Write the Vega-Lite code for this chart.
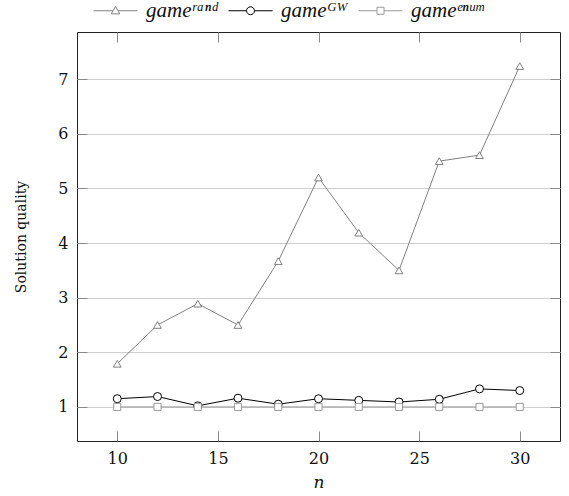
{
  "$schema": "https://vega.github.io/schema/vega-lite/v6.json",
  "width": 483,
  "height": 409,
  "autosize": {"type": "none"},
  "padding": {"left": 77, "top": 32, "right": 9, "bottom": 55},
  "background": "white",
  "config": {
    "view": {"stroke": "#222", "strokeWidth": 1},
    "font": "DejaVu Serif",
    "axis": {"labelFont": "DejaVu Serif", "titleFont": "DejaVu Serif", "labelColor": "#111", "titleColor": "#111", "titleFontWeight": "normal", "domain": false, "tickColor": "#8a8a8a", "tickWidth": 1},
    "legend": {"orient": "none", "direction": "horizontal", "legendX": 16, "legendY": -44, "title": null, "symbolSize": 1936, "symbolStrokeWidth": 1, "symbolFillColor": "white", "symbolOpacity": 1, "labelOffset": 8, "columnPadding": 8, "labelFont": "Liberation Serif", "labelFontStyle": "italic", "labelFontWeight": "normal", "labelFontSize": 21, "labelColor": "#111"}
  },
  "data": {"values": [
    {"n": 10, "q": 1.79, "s": "rand"}, {"n": 12, "q": 2.5, "s": "rand"}, {"n": 14, "q": 2.89, "s": "rand"}, {"n": 16, "q": 2.5, "s": "rand"}, {"n": 18, "q": 3.67, "s": "rand"}, {"n": 20, "q": 5.2, "s": "rand"}, {"n": 22, "q": 4.19, "s": "rand"}, {"n": 24, "q": 3.5, "s": "rand"}, {"n": 26, "q": 5.5, "s": "rand"}, {"n": 28, "q": 5.61, "s": "rand"}, {"n": 30, "q": 7.24, "s": "rand"},
    {"n": 10, "q": 1.15, "s": "GW"}, {"n": 12, "q": 1.19, "s": "GW"}, {"n": 14, "q": 1.02, "s": "GW"}, {"n": 16, "q": 1.16, "s": "GW"}, {"n": 18, "q": 1.05, "s": "GW"}, {"n": 20, "q": 1.15, "s": "GW"}, {"n": 22, "q": 1.12, "s": "GW"}, {"n": 24, "q": 1.09, "s": "GW"}, {"n": 26, "q": 1.14, "s": "GW"}, {"n": 28, "q": 1.33, "s": "GW"}, {"n": 30, "q": 1.3, "s": "GW"},
    {"n": 10, "q": 1, "s": "enum"}, {"n": 12, "q": 1, "s": "enum"}, {"n": 14, "q": 1, "s": "enum"}, {"n": 16, "q": 1, "s": "enum"}, {"n": 18, "q": 1, "s": "enum"}, {"n": 20, "q": 1, "s": "enum"}, {"n": 22, "q": 1, "s": "enum"}, {"n": 24, "q": 1, "s": "enum"}, {"n": 26, "q": 1, "s": "enum"}, {"n": 28, "q": 1, "s": "enum"}, {"n": 30, "q": 1, "s": "enum"}
  ]},
  "encoding": {
    "stroke": {"field": "s", "type": "nominal", "scale": {"domain": ["rand", "GW", "enum"], "range": ["#808080", "#000000", "#999999"]},
      "legend": {"labelExpr": "datum.value == 'rand' ? 'gameʳᵃⁿᵈ' : datum.value == 'GW' ? 'gameᴳᵂ' : 'gameᵉⁿᵘᵐ'"}}
  },
  "layer": [
    {
      "mark": {"type": "line", "strokeWidth": 1},
      "encoding": {
        "x": {"field": "n", "type": "quantitative", "scale": {"domain": [8, 32], "nice": false, "zero": false},
          "axis": {"orient": "bottom", "values": [10, 15, 20, 25, 30], "title": "n", "titleFontStyle": "italic", "titleFontSize": 17, "labelFontSize": 16, "tickSize": -10, "labelPadding": 19, "titlePadding": 8, "grid": false}},
        "y": {"field": "q", "type": "quantitative", "scale": {"domain": [0.376, 7.864], "nice": false, "zero": false},
          "axis": {"orient": "left", "values": [1, 2, 3, 4, 5, 6, 7], "title": "Solution quality", "titleFontSize": 14, "labelFontSize": 16, "tickSize": -10, "labelPadding": 19, "titlePadding": 29, "grid": true, "gridColor": "#cfcfcf", "gridWidth": 1}}
      }
    },
    {
      "mark": {"type": "point", "filled": false, "opacity": 0, "strokeWidth": 1},
      "encoding": {
        "x": {"field": "n", "type": "quantitative", "axis": {"orient": "top", "values": [10, 15, 20, 25, 30], "labels": false, "title": null, "tickSize": -10, "grid": false}},
        "y": {"field": "q", "type": "quantitative", "axis": {"orient": "right", "values": [1, 2, 3, 4, 5, 6, 7], "labels": false, "title": null, "tickSize": -10, "grid": false}},
        "shape": {"field": "s", "type": "nominal",
          "scale": {"domain": ["rand", "GW", "enum"], "range": ["M-1,0L-0.12,0M0.12,0L1,0M0,-0.2L0.19,0.14L-0.19,0.14Z", "M-1,0L-0.18,0M0.18,0L1,0M-0.18,0A0.18,0.18,0,1,0,0.18,0A0.18,0.18,0,1,0,-0.18,0Z", "M-1,0L-0.16,0M0.16,0L1,0M-0.16,-0.16L0.16,-0.16L0.16,0.16L-0.16,0.16Z"]},
          "legend": {"labelExpr": "datum.value == 'rand' ? 'gameʳᵃⁿᵈ' : datum.value == 'GW' ? 'gameᴳᵂ' : 'gameᵉⁿᵘᵐ'"}}
      }
    },
    {
      "transform": [{"filter": "datum.s == 'rand'"}],
      "mark": {"type": "point", "shape": "triangle-up", "filled": false, "fill": "white", "fillOpacity": 1, "strokeWidth": 1, "size": 60, "opacity": 1},
      "encoding": {"x": {"field": "n", "type": "quantitative", "axis": null}, "y": {"field": "q", "type": "quantitative", "axis": null}}
    },
    {
      "transform": [{"filter": "datum.s == 'GW'"}],
      "mark": {"type": "point", "shape": "circle", "filled": false, "fill": "white", "fillOpacity": 1, "strokeWidth": 1, "size": 64, "opacity": 1},
      "encoding": {"x": {"field": "n", "type": "quantitative", "axis": null}, "y": {"field": "q", "type": "quantitative", "axis": null}}
    },
    {
      "transform": [{"filter": "datum.s == 'enum'"}],
      "mark": {"type": "point", "shape": "square", "filled": false, "fill": "white", "fillOpacity": 1, "strokeWidth": 1, "size": 50, "opacity": 1},
      "encoding": {"x": {"field": "n", "type": "quantitative", "axis": null}, "y": {"field": "q", "type": "quantitative", "axis": null}}
    }
  ],
  "resolve": {"axis": {"x": "independent", "y": "independent"}}
}
